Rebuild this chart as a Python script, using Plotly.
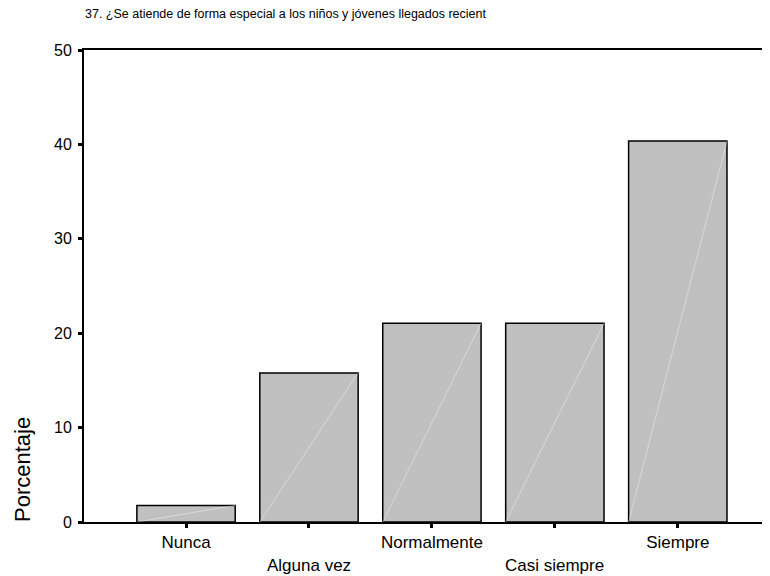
import plotly.graph_objects as go

categories = ["Nunca", "Alguna vez", "Normalmente", "Casi siempre", "Siempre"]
values = [1.75, 15.79, 21.05, 21.05, 40.35]
y_ticks = [0, 10, 20, 30, 40, 50]
title_text = "37. ¿Se atiende de forma especial a los niños y jóvenes llegados recient"
y_title = "Porcentaje"

FONT = "Arial, Liberation Sans, Arimo, sans-serif"
x_idx = list(range(len(categories)))

# page has an 8px body margin; figure is sized/offset to compensate
W, H = 762, 568
PLOT_W, PLOT_H = 686, 472

fig = go.Figure()
fig.add_trace(go.Bar(
    x=x_idx, y=values, width=0.8,
    marker=dict(color="#c0c0c0", line=dict(color="black", width=1.5)),
    hoverinfo="skip", showlegend=False,
))

# faint diagonal highlight inside each bar (bottom-left to top-right)
dx, dy = [], []
for i, v in zip(x_idx, values):
    dx += [i - 0.4, i + 0.4, None]
    dy += [0, v, None]
fig.add_trace(go.Scatter(
    x=dx, y=dy, mode="lines",
    line=dict(color="rgba(255,255,255,0.4)", width=1),
    hoverinfo="skip", showlegend=False,
))

ticktext = [c if i % 2 == 0 else "" for i, c in enumerate(categories)]
for i, c in enumerate(categories):
    if i % 2 == 1:
        fig.add_annotation(
            x=i, xref="x", y=-43 / PLOT_H, yref="paper",
            text=c, showarrow=False, yanchor="middle",
            font=dict(family=FONT, size=17, color="black"),
        )

fig.add_annotation(
    x=-62 / PLOT_W, xref="paper", y=52 / PLOT_H, yref="paper",
    text=y_title, textangle=-90, showarrow=False,
    xanchor="center", yanchor="middle",
    font=dict(family=FONT, size=22, color="black"),
)

fig.update_layout(
    width=W, height=H,
    margin=dict(l=76, r=0, t=42, b=54, pad=0),
    paper_bgcolor="white", plot_bgcolor="white",
    font=dict(family=FONT, size=13, color="black"),
    title=dict(
        text=title_text, xref="container", yref="container",
        x=77 / W, y=1 - 6 / H, xanchor="left", yanchor="middle",
        font=dict(family=FONT, size=12.5, color="black"),
    ),
    xaxis=dict(
        range=[-0.83, 4.75], tickmode="array", tickvals=x_idx, ticktext=ticktext,
        showline=True, linecolor="black", linewidth=2, mirror=True,
        ticks="outside", ticklen=4, tickwidth=3, tickcolor="black",
        showgrid=False, zeroline=False, fixedrange=True,
        tickfont=dict(family=FONT, size=17, color="black"),
    ),
    yaxis=dict(
        range=[0, 50], tickmode="array", tickvals=y_ticks,
        showline=True, linecolor="black", linewidth=2,
        ticks="outside", ticklen=4, tickwidth=3, tickcolor="black",
        ticklabelstandoff=3,
        showgrid=False, zeroline=False, fixedrange=True,
        tickfont=dict(family=FONT, size=16, color="black"),
    ),
)

fig.write_html("out.html")
